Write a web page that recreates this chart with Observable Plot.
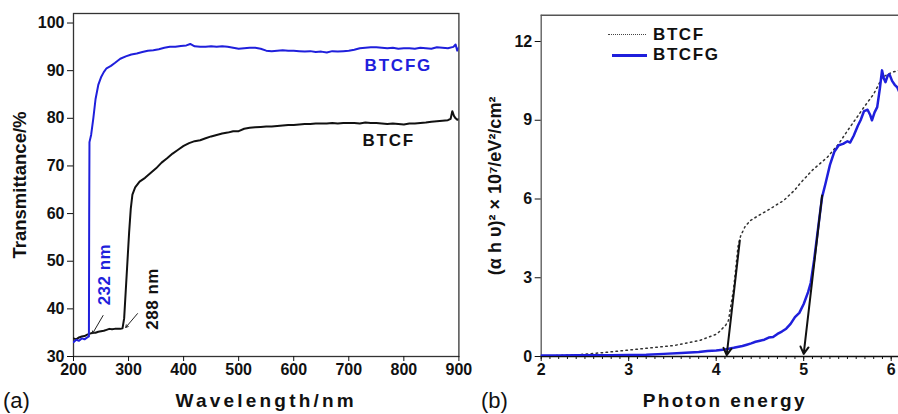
<!DOCTYPE html>
<html><head><meta charset="utf-8">
<script src="https://cdn.jsdelivr.net/npm/d3@7"></script>
<script src="https://cdn.jsdelivr.net/npm/@observablehq/plot@0.6"></script>
<style>
body{margin:0;background:#fff;}
#wrap{position:relative;width:898px;height:414px;overflow:hidden;font-family:"Liberation Sans",Arial,sans-serif;color:#111;}
#pa{position:absolute;left:0;top:0;}
#pb{position:absolute;left:470px;top:0;}
.abs{position:absolute;white-space:nowrap;}
.tag{font-size:22px;line-height:26px;font-weight:normal;}
.leg{font-size:17px;line-height:20px;font-weight:bold;letter-spacing:1.6px;}
</style>
</head><body>
<div id="wrap">
  <div id="pa"></div>
  <div id="pb"></div>
  <div class="abs tag" style="left:3px;top:388px;">(a)</div>
  <div class="abs tag" style="left:481px;top:388px;">(b)</div>
  <div class="abs" style="left:608px;top:34px;width:38px;border-top:1.5px dotted #444;"></div>
  <div class="abs leg" style="left:653px;top:25px;">BTCF</div>
  <div class="abs" style="left:612px;top:54px;width:35px;border-top:3px solid #1f1fdc;"></div>
  <div class="abs leg" style="left:653px;top:45px;">BTCFG</div>
</div>
<script>
// ---------- Panel (a): transmittance spectra [wavelength nm, T %] ----------
const btcfgTrans = [
[200,33.0],[205,33.5],[210,33.3],[215,33.8],[220,33.6],[225,34.0],[228,34.2],[228.5,60],[229,75],[232,76.5],
[236,80],[240,84],[245,87],[250,88.6],[255,89.7],[260,90.5],[268,91.0],[275,91.6],[285,92.5],[295,93.0],
[305,93.4],[315,93.6],[325,93.9],[335,94.2],[345,94.3],[355,94.5],[365,94.8],[375,95.0],[385,95.0],[395,95.2],
[405,95.3],[412,95.6],[420,95.1],[430,95.0],[440,95.0],[450,95.1],[460,95.0],[470,95.1],[480,95.0],[490,94.8],
[500,94.6],[510,94.7],[520,94.8],[530,94.8],[540,94.6],[550,94.2],[560,94.1],[570,94.2],[580,94.3],[590,94.2],
[600,94.2],[610,94.1],[620,94.0],[630,94.1],[640,93.9],[650,94.0],[660,93.8],[670,94.1],[680,94.0],[690,94.1],
[700,94.2],[710,94.4],[720,94.7],[730,94.8],[740,94.9],[750,94.9],[760,94.8],[770,94.7],[780,94.8],[790,94.6],
[800,94.7],[810,94.7],[820,94.6],[830,94.8],[840,94.7],[850,94.6],[860,94.9],[870,94.8],[880,94.7],[890,95.0],
[894,95.5],[897,94.2],[900,94.9]
];
const btcfTrans = [
[200,33.8],[205,33.6],[210,34.0],[215,34.2],[220,34.3],[225,34.6],[230,34.8],[235,35.0],[240,35.0],[245,35.2],
[250,35.3],[255,35.4],[260,35.6],[265,35.8],[270,35.7],[275,35.8],[280,35.8],[285,35.8],[289,35.9],[292,38],
[295,44],[298,50],[301,56],[304,61],[307,64],[312,65.5],[320,66.7],[330,67.5],[340,68.5],[350,69.5],
[360,70.7],[370,71.6],[380,72.6],[390,73.4],[400,74.2],[410,74.8],[420,75.2],[430,75.4],[440,75.8],[450,76.2],
[460,76.5],[470,76.8],[480,77.0],[490,77.3],[500,77.3],[510,77.8],[520,78.0],[530,78.1],[540,78.2],[550,78.3],
[560,78.3],[570,78.4],[580,78.5],[590,78.6],[600,78.6],[610,78.7],[620,78.8],[630,78.8],[640,78.9],[650,78.9],
[660,78.9],[670,79.0],[680,78.9],[690,79.0],[700,79.0],[710,79.0],[720,78.9],[730,79.1],[740,79.0],[750,79.0],
[760,78.9],[770,78.8],[780,78.9],[790,78.8],[800,78.7],[810,78.9],[820,78.9],[830,79.0],[840,79.1],[850,79.3],
[860,79.4],[870,79.5],[880,79.6],[885,79.9],[888,81.5],[891,80.5],[894,80.0],[897,79.7],[900,79.8]
];
const xTicksA = [200,300,400,500,600,700,800,900];
const yTicksA = [30,40,50,60,70,80,90,100];
const onsetArrowsA = [ // [x1,y1,x2,y2] in data units
  [253.7,38.6,234.5,34.8],
  [316.2,39.0,294.9,36.1]
];
const onsetLabelsA = [
  {text:"232 nm", x:255.5, y:47.2, color:"#1f1fdc"},
  {text:"288 nm", x:343.4, y:42.1, color:"#111"}
];
const curveLabelsA = [
  {text:"BTCFG", x:790, y:91.0, color:"#1f1fdc"},
  {text:"BTCF", x:772.6, y:75.3, color:"#111"}
];

// ---------- Panel (b): Tauc plot [photon energy eV, (αhν)^2 ×10^7] ----------
const btcfgTauc = [
[2.0,0.04],[2.2,0.04],[2.4,0.05],[2.6,0.05],[2.8,0.05],[3.0,0.06],[3.2,0.07],[3.4,0.10],[3.6,0.13],[3.8,0.17],
[3.9,0.21],[4.0,0.23],[4.1,0.27],[4.2,0.33],[4.3,0.40],[4.35,0.45],[4.4,0.50],[4.45,0.56],[4.5,0.60],[4.55,0.64],
[4.6,0.72],[4.65,0.74],[4.7,0.86],[4.75,0.95],[4.8,1.06],[4.85,1.24],[4.9,1.5],[4.95,1.66],[5.0,2.0],[5.05,2.45],
[5.08,2.8],[5.12,3.7],[5.15,4.5],[5.18,5.3],[5.21,6.07],[5.25,6.6],[5.3,7.3],[5.35,7.8],[5.4,8.05],[5.45,8.1],
[5.5,8.2],[5.53,8.15],[5.57,8.4],[5.62,8.8],[5.65,9.0],[5.69,9.35],[5.73,9.4],[5.76,9.2],[5.78,9.0],[5.81,9.3],
[5.84,9.5],[5.87,10.2],[5.895,10.9],[5.915,10.6],[5.935,10.45],[5.96,10.7],[5.98,10.75],[6.01,10.5],[6.04,10.35],
[6.07,10.25],[6.09,10.1]
];
const btcfTauc = [
[2.0,0.02],[2.4,0.06],[2.75,0.16],[3.13,0.29],[3.52,0.42],[3.82,0.62],[4.01,0.86],[4.11,1.2],[4.14,1.37],[4.2,2.6],
[4.25,4.2],[4.28,4.6],[4.33,4.95],[4.39,5.18],[4.5,5.4],[4.58,5.55],[4.7,5.8],[4.77,5.94],[4.9,6.35],[4.96,6.6],
[5.1,7.1],[5.27,7.59],[5.4,8.1],[5.5,8.6],[5.61,9.12],[5.7,9.55],[5.8,10.0],[5.9,10.64],[6.01,10.83],[6.09,10.9]
];
const xTicksB = [2,3,4,5,6];
const yTicksB = [0,3,6,9,12];
const onsetArrowsB = [
  [4.27,4.42,4.12,0.05],
  [5.21,6.13,5.0,0.1]
];

const blue = "#1f1fdc";
const font = "'Liberation Sans', Arial, sans-serif";
const baseStyle = {fontFamily: font, fontSize: "16px", fontWeight: "bold", color: "#111", background: "transparent", overflow: "visible"};

const chartA = Plot.plot({
  width: 470, height: 414,
  marginLeft: 73, marginRight: 11.6, marginTop: 13, marginBottom: 58,
  x: {domain: [200, 900]},
  y: {domain: [30, 102]},
  style: baseStyle,
  marks: [
    Plot.frame({stroke: "#333", strokeWidth: 1.3}),
    Plot.axisX({ticks: xTicksA, tickSize: 5, tickPadding: 2, label: null, tickFormat: d => String(d)}),
    Plot.axisY({ticks: yTicksA, tickSize: 6, tickPadding: 3, label: null, tickFormat: d => String(d)}),
    Plot.line(btcfTrans, {x: d => d[0], y: d => d[1], stroke: "#111", strokeWidth: 2, clip: true}),
    Plot.line(btcfgTrans, {x: d => d[0], y: d => d[1], stroke: blue, strokeWidth: 2, clip: true}),
    Plot.arrow(onsetArrowsA, {x1: d => d[0], y1: d => d[1], x2: d => d[2], y2: d => d[3], stroke: "#222", strokeWidth: 1, headLength: 4}),
    Plot.text(onsetLabelsA.filter(d => d.color === blue), {x: "x", y: "y", text: "text", rotate: -90, fill: blue, fontSize: 17, fontWeight: "bold"}),
    Plot.text(onsetLabelsA.filter(d => d.color !== blue), {x: "x", y: "y", text: "text", rotate: -90, fill: "#111", fontSize: 17, fontWeight: "bold"}),
    Plot.text(curveLabelsA.filter(d => d.color === blue), {x: "x", y: "y", text: "text", fill: blue, fontSize: 17, fontWeight: "bold"}),
    Plot.text(curveLabelsA.filter(d => d.color !== blue), {x: "x", y: "y", text: "text", fill: "#111", fontSize: 17, fontWeight: "bold"}),
    Plot.text(["Transmittance/%"], {frameAnchor: "left", dx: -53, rotate: -90, textAnchor: "middle", lineAnchor: "middle", fontSize: 18.5, fontWeight: "bold", fill: "#111"}),
    Plot.text(["Wavelength/nm"], {frameAnchor: "bottom", dy: 44, textAnchor: "middle", lineAnchor: "middle", fontSize: 19, fontWeight: "bold", fill: "#111"})
  ]
});
document.getElementById("pa").append(chartA);

const chartB = Plot.plot({
  width: 428, height: 414,
  marginLeft: 70.7, marginRight: 0, marginTop: 14.75, marginBottom: 58,
  x: {domain: [2, 2 + (428 - 70.7) / 87.5]},
  y: {domain: [0, 13]},
  style: baseStyle,
  marks: [
    Plot.ruleY([13], {stroke: "#555", strokeWidth: 1.3}),
    Plot.ruleX([2], {stroke: "#555", strokeWidth: 1.3}),
    Plot.axisX({ticks: d3.range(20, 61).map(i => i / 10), tickSize: 3, tickFormat: () => "", label: null}),
    Plot.axisX({ticks: xTicksB, tickSize: 5, tickPadding: 2, label: null, tickFormat: d => String(d)}),
    Plot.axisY({ticks: yTicksB, tickSize: 6, tickPadding: 3, label: null, tickFormat: d => String(d)}),
    Plot.ruleY([0], {stroke: "#111", strokeWidth: 1.5}),
    Plot.line(btcfTauc, {x: d => d[0], y: d => d[1], stroke: "#333", strokeWidth: 1.5, strokeDasharray: "1.5,3.5", clip: true}),
    Plot.line(btcfgTauc, {x: d => d[0], y: d => d[1], stroke: blue, strokeWidth: 2.5, clip: true}),
    Plot.arrow(onsetArrowsB, {x1: d => d[0], y1: d => d[1], x2: d => d[2], y2: d => d[3], stroke: "#111", strokeWidth: 2, headLength: 6}),
    Plot.text(["(\u03b1 h \u03c5)\u00b2 \u00d7 10\u2077/eV\u00b2/cm\u00b2"], {frameAnchor: "left", dx: -45.7, rotate: -90, textAnchor: "middle", lineAnchor: "middle", fontSize: 18, fontWeight: "bold", fill: "#111"}),
    Plot.text(["Photon energy"], {frameAnchor: "bottom", dy: 44, dx: 5, textAnchor: "middle", lineAnchor: "middle", fontSize: 19, fontWeight: "bold", fill: "#111"})
  ]
});
document.getElementById("pb").append(chartB);

// letter spacing for titles and labels (styling only)
const spacing = {"Wavelength/nm": "3.2px", "Photon energy": "2.4px", "BTCFG": "1.8px", "BTCF": "1.8px", "232 nm": "0.5px", "288 nm": "0.5px"};
d3.selectAll("#wrap svg text").each(function() {
  const s = spacing[this.textContent];
  if (s) this.style.letterSpacing = s;
});
</script>
</body></html>
